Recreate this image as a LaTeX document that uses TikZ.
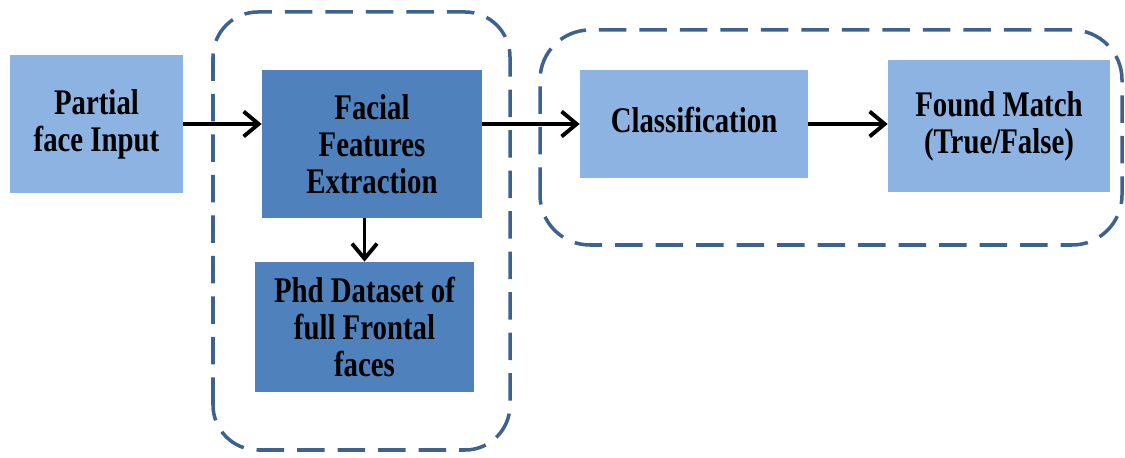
\documentclass[tikz,border=0pt]{standalone}
\usepackage{fontspec}
\setmainfont{Liberation Serif}[FakeStretch=0.8]
\usetikzlibrary{arrows.meta,positioning,calc}
\definecolor{lightbox}{HTML}{8DB3E2}
\definecolor{darkbox}{HTML}{4F81BD}
\definecolor{groupline}{HTML}{3D628F}

\begin{document}
\begin{tikzpicture}[
      block/.style={rectangle, inner sep=0pt, align=center, font=\fontsize{20.5}{21}\selectfont\bfseries},
      light/.style={block, fill=lightbox},
      dark/.style={block, fill=darkbox},
      group/.style={draw=groupline, line width=2pt, dash pattern=on 0.55cm off 0.26cm},
      arr/.style={-{Straight Barb[length=3mm,width=5mm]}, line width=2.2pt}
    ]
    \useasboundingbox (0,0) rectangle (22.5,9.16);

    % dashed groups
    \draw[group, rounded corners=0.9cm] (4.26,0.16) rectangle (10.2,8.92);
    \draw[group, rounded corners=1cm] (10.8,4.26) rectangle (22.44,8.56);

    \node[light, minimum width=3.46cm, minimum height=2.76cm] (input) at (1.93,6.68) {Partial\\face Input};
    \node[dark, minimum width=4.4cm, minimum height=2.96cm] (feat) at (7.44,6.28) {Facial\\Features\\Extraction};
    \node[dark, minimum width=4.38cm, minimum height=2.6cm] (phd) at (7.29,2.62) {Phd Dataset of\\full Frontal\\faces};
    \node[light, minimum width=4.56cm, minimum height=2.16cm] (cls) at (13.88,6.68) {\raisebox{0.18cm}{Classification}};
    \node[light, minimum width=4.44cm, minimum height=2.64cm] (match) at (19.98,6.64) {Found Match\\(True/False)};

    \draw[arr] (input.east) -- (input.east -| feat.west);
    \draw[arr] (phd.north |- feat.south) -- (phd.north);
    \draw[arr] (feat.east |- cls.west) -- (cls.west);
    \draw[arr] (cls.east) -- (cls.east -| match.west);
  \end{tikzpicture}
\end{document}
